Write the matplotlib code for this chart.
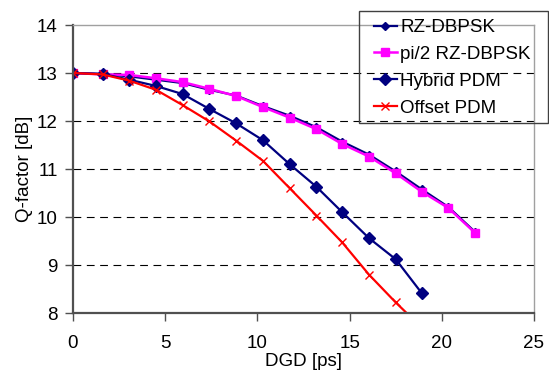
import matplotlib
matplotlib.use("Agg")
import matplotlib.pyplot as plt
from matplotlib.patches import Rectangle

plt.rcParams['font.family'] = ['Liberation Sans', 'DejaVu Sans']

# DGD sample points [ps]
dgd = [0, 1.6, 3.05, 4.5, 5.95, 7.4, 8.85, 10.3, 11.75, 13.2, 14.6, 16.05, 17.5, 18.9, 20.35, 21.8]

# Q-factor [dB] per format
q_rz = [13.0, 12.98, 12.93, 12.86, 12.79, 12.65, 12.53, 12.31, 12.11, 11.87, 11.57, 11.30, 10.95, 10.58, 10.21, 9.69]
q_pi2 = [13.0, 12.97, 12.96, 12.89, 12.81, 12.67, 12.52, 12.29, 12.07, 11.83, 11.52, 11.26, 10.91, 10.53, 10.19, 9.67]
q_hybrid = [13.0, 12.98, 12.86, 12.73, 12.56, 12.25, 11.95, 11.60, 11.10, 10.63, 10.10, 9.56, 9.12, 8.42]
q_offset = [13.0, 12.97, 12.84, 12.65, 12.33, 11.99, 11.59, 11.17, 10.60, 10.03, 9.47, 8.80, 8.22, 7.70]

labels = ["RZ-DBPSK", "pi/2 RZ-DBPSK", "Hybrid PDM", "Offset PDM"]

navy = '#000080'
fs = 13.5
W, H = 549, 370
fig = plt.figure(figsize=(W / 100, H / 100), dpi=100)
ax = fig.add_axes([73/W, 1 - 313/H, (534 - 73)/W, (313 - 25)/H])

ax.plot(dgd, q_rz, color=navy, lw=1.6, marker='D', ms=4, label=labels[0])
ax.plot(dgd, q_pi2, color='#FF00FF', lw=1.8, marker='s', ms=5.5, label=labels[1])
ax.plot(dgd[:len(q_hybrid)], q_hybrid, color=navy, lw=1.6, marker='D', ms=6.5, label=labels[2])
ax.plot(dgd[:len(q_offset)], q_offset, color='#FF0000', lw=1.6, marker='x', ms=6, mew=1,
        label=labels[3])

ax.set_xlim(0, 25)
ax.set_ylim(8, 14)
ax.set_xticks(range(0, 26, 5))
ax.set_yticks(range(8, 15))
for y in range(9, 14):
    ax.axhline(y, color='black', lw=0.8, ls=(0, (7, 5)), zorder=0)

for s in ['left', 'bottom']:
    ax.spines[s].set_color('#505050')
    ax.spines[s].set_linewidth(1.6)
for s in ['top', 'right']:
    ax.spines[s].set_color('#a0a0a0')
    ax.spines[s].set_linewidth(1.0)
ax.tick_params(direction='out', length=6, width=1, colors='#505050', labelcolor='black',
               labelsize=fs, pad=5)
ax.tick_params(axis='x', pad=10)

ax.set_xlabel('DGD [ps]', fontsize=fs, labelpad=0.5)
ax.set_ylabel('Q-factor [dB]', fontsize=fs, labelpad=3)

# legend: entries without frame, box drawn separately
leg = fig.legend(loc='upper left', bbox_to_anchor=(374/W, 1 - 19/H), fontsize=fs,
                 frameon=False, handlelength=1.2, handletextpad=0.2,
                 labelspacing=0.52, borderpad=0, borderaxespad=0)
fig.patches.append(Rectangle((359/W, 1 - 123/H), (547.5 - 359)/W, (123 - 11)/H,
                             transform=fig.transFigure, fill=False,
                             edgecolor='#404040', lw=1.0))

fig.savefig('out.png', dpi=100)
